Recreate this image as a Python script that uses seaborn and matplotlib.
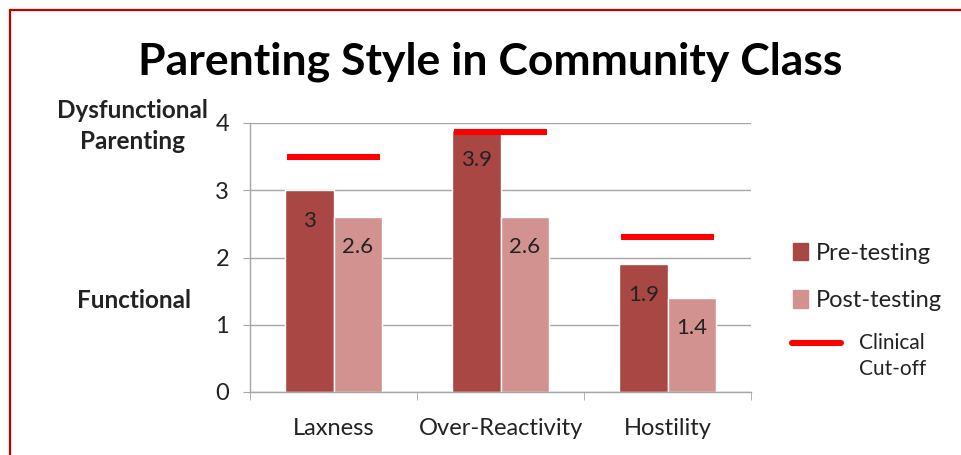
import numpy as np
import pandas as pd
import matplotlib
matplotlib.use("Agg")
import matplotlib.pyplot as plt
import matplotlib.patches as mpatches
from matplotlib.lines import Line2D
from matplotlib.legend_handler import HandlerLine2D
import seaborn as sns

# ── DATA ──────────────────────────────────────────────────────
categories = ["Laxness", "Over-Reactivity", "Hostility"]
pre_testing = [3.0, 3.9, 1.9]
post_testing = [2.6, 2.6, 1.4]
clinical_cutoff = [3.5, 3.87, 2.3]
series_names = ["Pre-testing", "Post-testing"]
y_ticks = [0, 1, 2, 3, 4]

PRE = "#A84744"
POST = "#D19290"
CUT = "#FF0000"
BORDER = "#C00000"
GRID = "#A6A6A6"
TXT = "#222222"

sns.set_style("white")
plt.rcParams["font.family"] = ["Lato", "DejaVu Sans"]

df = pd.DataFrame({
    "category": categories * 2,
    "series": [series_names[0]] * 3 + [series_names[1]] * 3,
    "value": pre_testing + post_testing,
})

fig = plt.figure(figsize=(9.61, 4.55), dpi=100)
ax = fig.add_axes([250 / 961, 63 / 455, 501 / 961, 269 / 455])

sns.barplot(data=df, x="category", y="value", hue="series",
            palette=[PRE, POST], width=0.575, saturation=1,
            order=categories, hue_order=series_names, ax=ax, legend=False)

# clinical cut-off lines per category
xpos = np.arange(len(categories))
ax.hlines(clinical_cutoff, xpos - 0.28, xpos + 0.28, color=CUT, lw=4.4, zorder=5)

# value labels inside bar tops
for cont in ax.containers:
    ax.bar_label(cont, fmt="%g", padding=-29, fontsize=16, color=TXT)

ax.set_ylim(0, 4)
ax.set_xlim(-0.5, 2.5)
ax.set_yticks(y_ticks)
ax.set_xlabel("")
ax.set_ylabel("")
ax.yaxis.grid(True, color=GRID, lw=1)
ax.set_axisbelow(True)
for s in ["top", "right"]:
    ax.spines[s].set_visible(False)
for s in ["left", "bottom"]:
    ax.spines[s].set_color(GRID)
    ax.spines[s].set_linewidth(1)

ax.tick_params(axis="y", left=True, length=5, color=GRID, pad=10,
               labelsize=17, labelcolor=TXT)
ax.tick_params(axis="x", bottom=False, length=0, pad=19, labelsize=17,
               labelcolor=TXT)
ax.set_xticks([-0.5, 0.5, 1.5, 2.5], minor=True)
ax.tick_params(axis="x", which="minor", bottom=True, length=6, color=GRID)

# title and side annotations
fig.text(490 / 961, 1 - 62 / 455, "Parenting Style in Community Class",
         ha="center", va="center", fontsize=32, fontweight="bold", color="black")
fig.text(132 / 961, 1 - 126 / 455, "Dysfunctional\nParenting", ha="center",
         va="center", fontsize=17.5, fontweight="bold", color=TXT, linespacing=1.4)
fig.text(134 / 961, 1 - 300 / 455, "Functional", ha="center", va="center",
         fontsize=17.5, fontweight="bold", color=TXT)


# legend: the cut-off line sits on the first text row
class TopLine(HandlerLine2D):
    def create_artists(self, legend, orig_handle, xdescent, ydescent,
                       width, height, fontsize, trans):
        arts = super().create_artists(legend, orig_handle, xdescent, ydescent,
                                      width, height, fontsize, trans)
        for a in arts:
            a.set_ydata(np.asarray(a.get_ydata(), dtype=float) + 10)
        return arts


bar_handles = [
    mpatches.Patch(color=PRE, label="Pre-testing"),
    mpatches.Patch(color=POST, label="Post-testing"),
]
leg1 = fig.legend(handles=bar_handles, loc="center left",
                  bbox_to_anchor=(793 / 961, 1 - 277 / 455), frameon=False,
                  fontsize=17, handlelength=0.65, handleheight=0.75,
                  labelspacing=1.12, handletextpad=0.3, borderpad=0,
                  borderaxespad=0)
for t in leg1.get_texts():
    t.set_color(TXT)

cut_handle = Line2D([0], [0], color=CUT, lw=4.4, label="Clinical\nCut-off")
leg2 = fig.legend(handles=[cut_handle], loc="center left",
                  handler_map={cut_handle: TopLine()},
                  bbox_to_anchor=(792 / 961, 1 - 356 / 455), frameon=False,
                  fontsize=15, handlelength=2.35, handletextpad=0.85,
                  borderpad=0, borderaxespad=0)
for t in leg2.get_texts():
    t.set_color(TXT)
    t.set_linespacing(1.35)

# red border on left and top
fig.add_artist(Line2D([10 / 961, 10 / 961], [0, 1 - 10 / 455],
                      transform=fig.transFigure, color=BORDER, lw=1.6))
fig.add_artist(Line2D([10 / 961, 1], [1 - 10 / 455, 1 - 10 / 455],
                      transform=fig.transFigure, color=BORDER, lw=1.6))

fig.savefig("out.png", dpi=100, facecolor="white")
